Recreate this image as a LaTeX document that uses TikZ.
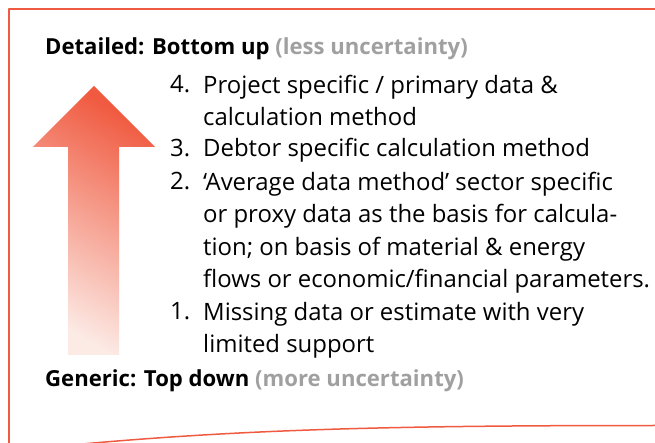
\documentclass[tikz,border=0pt]{standalone}
\usepackage{fontspec}
\setmainfont{Open Sans}
\usetikzlibrary{positioning}
\definecolor{framecol}{RGB}{240,90,64}
\definecolor{palered}{RGB}{252,234,229}
\definecolor{notegray}{RGB}{160,160,160}
\tikzset{
  head/.style={anchor=base west,inner sep=0pt,font=\fontsize{22.2}{24}\selectfont\bfseries},
  num/.style={anchor=base west,inner sep=0pt,font=\fontsize{24}{32.5}\selectfont},
  item/.style={anchor=base west,inner sep=0pt,align=left,font=\fontsize{24}{32.5}\selectfont},
}
\begin{document}
\begin{tikzpicture}[line join=bevel]
%%
\useasboundingbox (0bp,0bp) rectangle (655bp,443bp);
\draw [framecol,line width=1.5bp] (656bp,434bp) -- (9bp,434bp) -- (9bp,-1bp);
\draw [framecol,line width=1.5bp] (82bp,-1bp) ..controls (250bp,14bp) and (400bp,17.5bp) .. (656bp,17.5bp);
%% arrow
\shade [shading=axis,top color=framecol,bottom color=palered,shading angle=-30]
  (68bp,88bp) -- (119bp,88bp) -- (119bp,296bp) -- (155bp,296bp) -- (94bp,357bp)
  -- (33bp,296bp) -- (68bp,296bp) -- cycle;
%% headings
\node (Top) at (45bp,388bp) [head] {Detailed: Bottom up \textcolor{notegray}{(less uncertainty)}};
\node (Bot) at (45bp,56bp) [head] {Generic: Top down \textcolor{notegray}{(more uncertainty)}};
%% levels (text nodes sit on their last line)
\node (N4) at (170bp,350bp) [num] {4.};
\node (T4) at (203bp,317.5bp) [item] {Project specific / primary data \&\\calculation method};
\node (N3) at (170bp,286bp) [num] {3.};
\node (T3) at (203bp,286bp) [item] {Debtor specific calculation method};
\node (N2) at (170bp,253bp) [num] {2.};
\node (T2) at (203bp,155.5bp) [item] {‘Average data method’ sector specific\\or proxy data as the basis for calcula-\\tion; on basis of material \& energy\\flows or economic/financial parameters.};
\node (N1) at (170bp,123bp) [num] {1.};
\node (T1) at (203bp,90.5bp) [item] {Missing data or estimate with very\\limited support};
%
\end{tikzpicture}
\end{document}
